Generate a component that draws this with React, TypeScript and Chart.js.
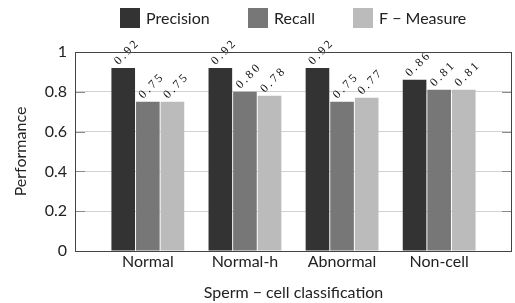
import React, { useEffect, useRef } from 'react';
import { Chart, registerables } from 'chart.js';

Chart.register(...registerables);

const categories = ['Normal', 'Normal-h', 'Abnormal', 'Non-cell'];
const seriesNames = ['Precision', 'Recall', 'F − Measure'];
const precision = [0.92, 0.92, 0.92, 0.86];
const recall = [0.75, 0.8, 0.75, 0.81];
const fMeasure = [0.75, 0.78, 0.77, 0.81];
const seriesColors = ['#333333', '#777777', '#bbbbbb'];
const yMin = 0;
const yMax = 1;
const yStep = 0.2;
const xTitle = 'Sperm − cell classification';
const yTitle = 'Performance';

const SANS = 'Lato, "Open Sans", sans-serif';

const labelPlugin = {
  id: 'barValueLabels',
  afterDatasetsDraw(chart: any) {
    const ctx: CanvasRenderingContext2D = chart.ctx;
    const ang = Math.PI / 4;
    const c = Math.cos(ang);
    const s = Math.sin(ang);
    chart.data.datasets.forEach((ds: any, di: number) => {
      const meta = chart.getDatasetMeta(di);
      meta.data.forEach((el: any, i: number) => {
        const text = ds.data[i].y.toFixed(2);
        const ox = el.x - 7;
        const oy = el.y - 5;
        let cx = 0;
        for (const ch of text) {
          ctx.save();
          ctx.font = '12px "Liberation Serif", serif';
          ctx.fillStyle = '#111';
          ctx.textAlign = 'left';
          ctx.textBaseline = 'middle';
          const w = ctx.measureText(ch).width;
          ctx.translate(ox + cx * c, oy - cx * s);
          ctx.rotate(-ang);
          ctx.fillText(ch, 0, 0);
          ctx.restore();
          cx += w + 2.5;
        }
      });
    });
  },
};

const framePlugin = {
  id: 'frameAndLegend',
  afterDraw(chart: any) {
    const ctx = chart.ctx;
    const a = chart.chartArea;
    const yScale = chart.scales.y;
    ctx.save();
    ctx.strokeStyle = '#8a8a8a';
    ctx.lineWidth = 1;
    yScale.ticks.forEach((t: any) => {
      const py = Math.round(yScale.getPixelForValue(t.value)) + 0.5;
      ctx.beginPath();
      ctx.moveTo(a.left, py);
      ctx.lineTo(a.left + 10, py);
      ctx.moveTo(a.right - 10, py);
      ctx.lineTo(a.right, py);
      ctx.stroke();
    });
    ctx.strokeStyle = '#444444';
    ctx.lineWidth = 1;
    ctx.strokeRect(Math.round(a.left) + 0.5, Math.round(a.top) + 0.5,
      Math.round(a.right - a.left) - 1, Math.round(a.bottom - a.top));

    ctx.font = '16px ' + SANS;
    ctx.textBaseline = 'middle';
    ctx.textAlign = 'left';
    const box = 20;
    const txtGap = 6;
    const gap = 38;
    const widths = chart.data.datasets.map((ds: any) => box + txtGap + ctx.measureText(ds.label).width);
    const total = widths.reduce((s: number, w: number) => s + w, 0) + gap * (widths.length - 1);
    let x = (a.left + a.right) / 2 - total / 2;
    const top = 8;
    chart.data.datasets.forEach((ds: any, i: number) => {
      ctx.fillStyle = ds.backgroundColor;
      ctx.fillRect(Math.round(x), top, box, box);
      ctx.fillStyle = '#222';
      ctx.fillText(ds.label, Math.round(x) + box + txtGap, top + box / 2 + 1);
      x += widths[i] + gap;
    });
    ctx.restore();
  },
};

export default function App() {
  const ref = useRef<HTMLCanvasElement>(null);
  useEffect(() => {
    document.body.style.margin = '0';
    const series = [precision, recall, fMeasure];
    const chart = new Chart(ref.current!, {
      type: 'bar',
      data: {
        datasets: series.map((vals, si) => ({
          label: seriesNames[si],
          data: vals.map((v, i) => ({ x: i, y: v })),
          backgroundColor: seriesColors[si],
          borderWidth: 0,
          categoryPercentage: 0.76,
          barPercentage: 0.96,
        })),
      },
      options: {
        responsive: false,
        animation: false,
        devicePixelRatio: 1,
        layout: { padding: { top: 52, left: 0, right: 3, bottom: 0 } },
        plugins: { legend: { display: false }, tooltip: { enabled: false } },
        scales: {
          x: {
            type: 'linear',
            min: -0.75,
            max: 3.75,
            offset: false,
            bounds: 'data',
            grid: { display: false, drawTicks: false, offset: false },
            border: { display: false },
            afterBuildTicks: (scale: any) => {
              scale.ticks = categories.map((_, i) => ({ value: i }));
            },
            afterFit: (scale: any) => { scale.height = 52; },
            ticks: {
              autoSkip: false,
              maxRotation: 0,
              padding: 1,
              color: '#222',
              font: { family: SANS, size: 16 },
              callback: (v: any) => categories[Math.round(Number(v))] ?? '',
            },
            title: {
              display: true,
              text: xTitle,
              color: '#222',
              font: { family: SANS, size: 16 },
              padding: { top: 0, bottom: 1 },
            },
          },
          y: {
            min: yMin,
            max: yMax,
            grid: { color: '#d2d2d2', drawTicks: false },
            border: { display: false },
            afterFit: (scale: any) => { scale.width = 75; },
            ticks: {
              stepSize: yStep,
              padding: 8,
              color: '#222',
              font: { family: SANS, size: 16 },
              callback: (v: any) => String(Number(Number(v).toFixed(1))),
            },
            title: {
              display: true,
              text: yTitle,
              color: '#222',
              font: { family: SANS, size: 16 },
              padding: { top: 11, bottom: 0 },
            },
          },
        },
      },
      plugins: [labelPlugin, framePlugin],
    } as any);
    return () => chart.destroy();
  }, []);
  return (
    <div style={{ width: 515, height: 303 }}>
      <canvas ref={ref} width={515} height={303} />
    </div>
  );
}
